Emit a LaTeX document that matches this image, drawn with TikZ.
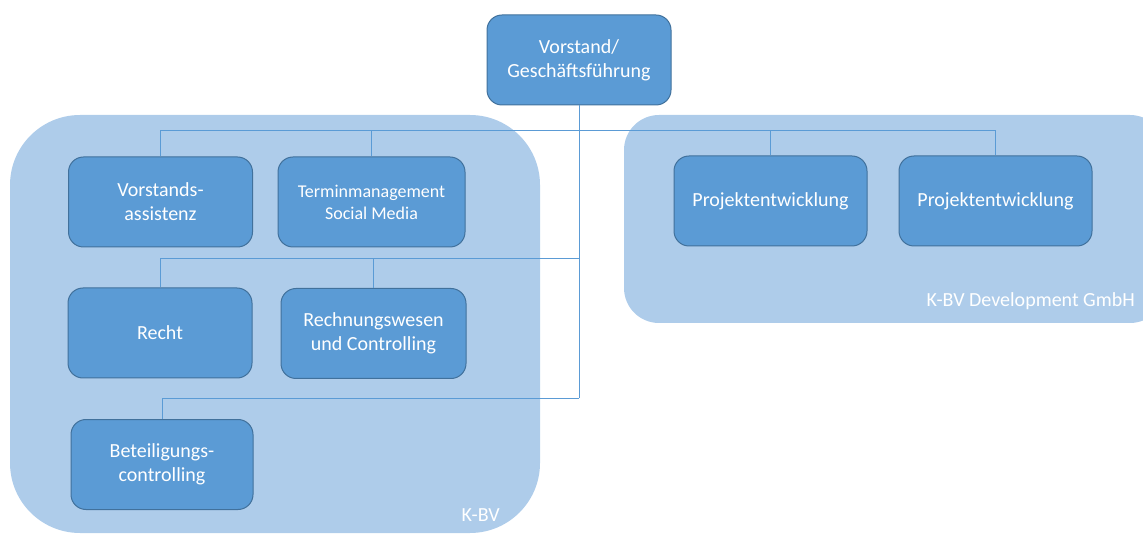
\documentclass[tikz,border=0pt]{standalone}
\usepackage{fontspec}
\setmainfont{Carlito}
\usetikzlibrary{positioning}
\definecolor{unitblue}{RGB}{91,155,213}
\definecolor{unitline}{RGB}{65,113,156}
\definecolor{groupblue}{RGB}{174,204,234}
\newcommand{\unitw}{184pt}
\newcommand{\unith}{90pt}

\begin{document}
\begin{tikzpicture}[x=1pt,y=-1pt]
            \tikzset{unit/.style = {draw=unitline, fill=unitblue, line width=1pt, rounded corners=15pt,
                                    minimum width=\unitw, minimum height=\unith, inner sep=2pt,
                                    align=center, text=white, font=\fontsize{20}{24}\selectfont},
                     conn/.style = {draw=unitblue, line width=1pt},
                     group/.style = {fill=groupblue, rounded corners=#1},
                     grouplabel/.style = {text=white, anchor=base east, inner sep=0pt, font=\fontsize{20}{24}\selectfont}}
            \useasboundingbox (0,0) rectangle (1143,534);
            % the two companies
            \fill[group=70pt] (10,115) rectangle (540,533);
            \fill[group=35pt] (624,115) rectangle (1165,323);
            \node[grouplabel] (kbvlabel) at (500,521) {K-BV};
            \node[grouplabel] (devlabel) at (1135,307) {K-BV Development GmbH};
            % units
            \node[unit] (vorstand) at (579,60) {Vorstand/\\Geschäftsführung};
            \node[unit] (vas) at (160.5,202) {Vorstands-\\assistenz};
            \node[unit, minimum width=187pt, font=\fontsize{18}{22}\selectfont] (termin) at (371.5,202) {Terminmanagement\\Social Media};
            \node[unit] (recht) at (160,333) {Recht};
            \node[unit, minimum width=185pt] (rewe) at (373.5,333.5) {Rechnungswesen\\und Controlling};
            \node[unit, minimum width=182pt] (beteil) at (162,464.5) {Beteiligungs-\\controlling};
            \node[unit, minimum width=193pt] (proj1) at (770.5,201) {Projektentwicklung};
            \node[unit, minimum width=193pt] (proj2) at (995.5,201) {Projektentwicklung};
            % connectors
            \coordinate (busa) at (579,130.5);
            \coordinate (busb) at (579,259);
            \coordinate (busc) at (579,398);
            \draw[conn] (vorstand.south) -- (busc);
            \foreach \n in {vas,termin,proj1,proj2}
                \draw[conn] (busa) -| (\n.north);
            \foreach \n in {recht,rewe}
                \draw[conn] (busb) -| (\n.north);
            \draw[conn] (busc) -| (beteil.north);
\end{tikzpicture}
\end{document}
